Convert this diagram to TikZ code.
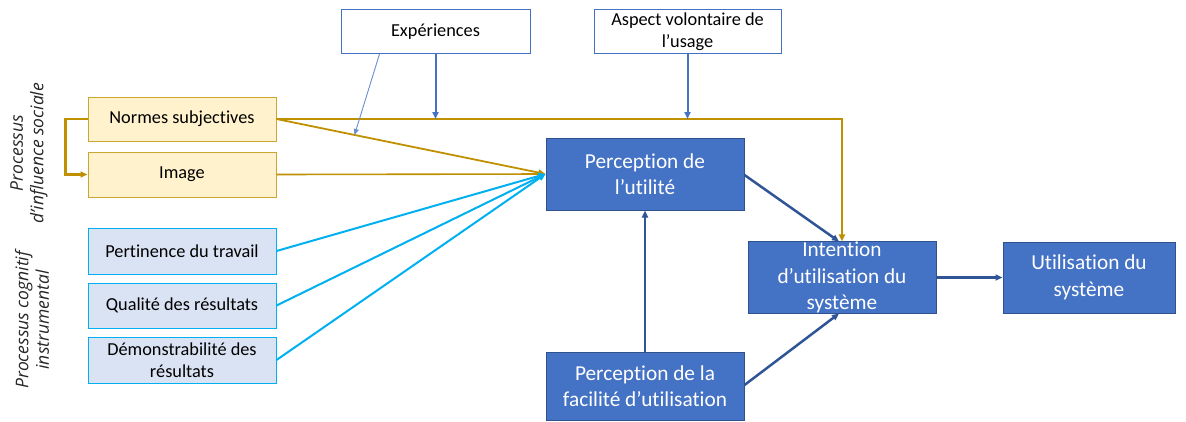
\documentclass[tikz,border=0pt]{standalone}
\usepackage{fontspec}
\setmainfont{Carlito}[Ligatures=NoCommon]
\newfontfamily\sidefont{Open Sans}
\usetikzlibrary{arrows.meta,calc}
\definecolor{gold}{RGB}{191,144,0}
\definecolor{goldfill}{RGB}{255,242,204}
\definecolor{lbfill}{RGB}{218,227,243}
\definecolor{cyanline}{RGB}{0,176,240}
\definecolor{bluefill}{RGB}{68,114,196}
\definecolor{blueborder}{RGB}{47,82,143}
\definecolor{darkarrow}{RGB}{47,85,151}
\definecolor{midblue}{RGB}{68,114,196}
\definecolor{sidegray}{RGB}{38,38,38}
\begin{document}
\begin{tikzpicture}[x=1pt,y=-1pt,
  tip/.style={-{Triangle[length=7pt,width=6pt]}},
  whitebox/.style={draw=midblue,line width=1pt,fill=white,inner sep=0pt,align=center,font=\fontsize{18.3}{22}\selectfont},
  goldbox/.style={draw=gold!80,line width=1pt,fill=goldfill,inner sep=0pt,minimum width=188pt,minimum height=44pt,align=center,font=\fontsize{18.3}{22}\selectfont},
  lbbox/.style={draw=cyanline,line width=1pt,fill=lbfill,inner sep=0pt,minimum width=188pt,minimum height=45pt,align=center,font=\fontsize{18.3}{22.5}\selectfont},
  bluebox/.style={draw=blueborder,line width=1pt,fill=bluefill,text=white,inner sep=0pt,align=center,font=\fontsize{21.3}{26.5}\selectfont},
  goldline/.style={draw=gold,line width=2.2pt},
  cyanconn/.style={draw=cyanline,line width=2pt,tip},
  darkconn/.style={draw=darkarrow,line width=2.5pt,tip},
  sidelabel/.style={rotate=90,align=center,text=sidegray,font=\sidefont\itshape\fontsize{17.5}{20.5}\selectfont}
]
\useasboundingbox (0,0) rectangle (1186,421);

% top boxes
\node[whitebox,minimum width=189pt,minimum height=44pt] (exp) at (435.5,31.5) {Expériences};
\node[whitebox,minimum width=187pt,minimum height=44pt] (asp) at (687.5,31.5) {Aspect volontaire de\\l’usage};

% left boxes
\node[goldbox] (normes) at (182,119) {Normes subjectives};
\node[goldbox,minimum height=45pt] (image) at (182,174.5) {Image};
\node[lbbox,minimum height=46pt] (pert) at (182,251) {Pertinence du travail};
\node[lbbox] (qual) at (182,305.5) {Qualité des résultats};
\node[lbbox,minimum height=46pt] (demo) at (182,360) {Démonstrabilité des\\résultats};

% blue boxes
\node[bluebox,minimum width=198pt,minimum height=72pt] (pu) at (645,174) {Perception de\\l’utilité};
\node[bluebox,minimum width=198pt,minimum height=68pt] (pf) at (645,386) {Perception de la\\facilité d’utilisation};
\node[bluebox,minimum width=188pt,minimum height=71pt] (int) at (842,277.5) {Intention\\d’utilisation du\\système};
\node[bluebox,minimum width=172pt,minimum height=71pt] (use) at (1089,277.5) {Utilisation du\\système};

% side labels
\node[sidelabel] (side1) at (29,153) {Processus\\d’influence sociale};
\node[sidelabel] (side2) at (32,320) {Processus cognitif\\instrumental};

% gold connectors
\draw[goldline,tip] (normes.west) -- ++(-22,0) |- (image.west);
\draw[goldline,tip] (normes.east) -| (int.north);
\draw[draw=gold,line width=1.8pt,tip] (normes.east) -- (pu.west);
\draw[draw=gold,line width=1.6pt,tip] (image.east) -- (pu.west);

% cyan connectors
\draw[cyanconn] (pert.east) -- (pu.west);
\draw[cyanconn] (qual.east) -- (pu.west);
\draw[cyanconn] (demo.east) -- (pu.west);

% top arrows
\coordinate (e1) at (exp.south |- normes.east);
\draw[draw=midblue,line width=2pt,tip] (exp.south) -- (e1);
\coordinate (e2s) at ([xshift=39pt]exp.south west);
\coordinate (e2e) at ($(normes.east)!0.29!(pu.west)$);
\draw[draw=midblue!80,line width=0.9pt,-{Triangle[length=6pt,width=5pt]}] (e2s) -- (e2e);
\coordinate (a1) at (asp.south |- normes.east);
\draw[draw=midblue,line width=2pt,tip] (asp.south) -- (a1);

% dark blue connectors
\draw[darkconn] (pf.north) -- (pu.south);
\draw[darkconn] ([yshift=-1pt]pu.east) -- ([xshift=-3pt]int.north);
\coordinate (pfe) at ([yshift=1pt]pf.east);
\draw[darkconn] (pfe) -- ([xshift=-3pt]int.south);
\draw[darkconn] (int.east) -- (use.west);
\end{tikzpicture}
\end{document}
